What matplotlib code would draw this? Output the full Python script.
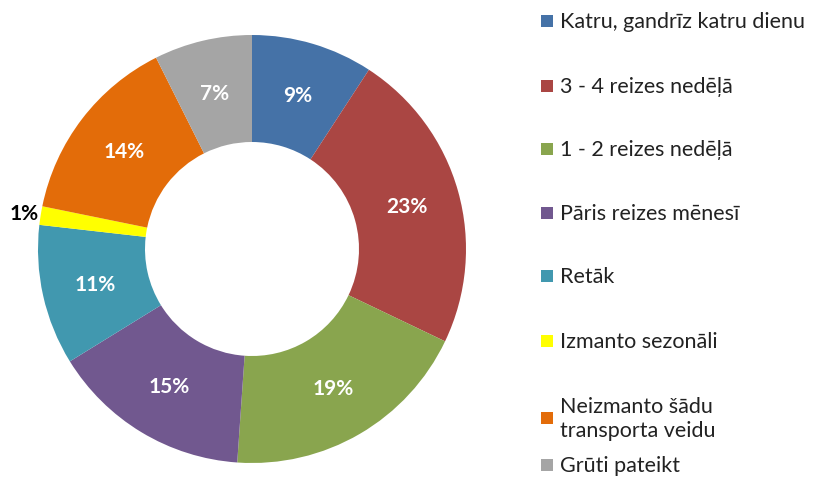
import matplotlib.pyplot as plt
from matplotlib.patches import Rectangle
import numpy as np

plt.rcParams['font.family'] = ['Lato', 'DejaVu Sans']

categories = ['Katru, gandrīz katru dienu', '3 - 4 reizes nedēļā', '1 - 2 reizes nedēļā',
              'Pāris reizes mēnesī', 'Retāk', 'Izmanto sezonāli',
              'Neizmanto šādu\ntransporta veidu', 'Grūti pateikt']
shares = [9.2, 22.9, 19.0, 15.1, 10.6, 1.4, 14.4, 7.4]
colors = ['#4572A7', '#AA4643', '#89A54E', '#71588F', '#4198AF', '#FFFF00', '#E36C09', '#A5A5A5']

W, H = 815, 481
fig = plt.figure(figsize=(W / 100, H / 100), dpi=100)

# donut, centre about (252, 250) px, radius 214 px
cx, cy, R = 252, 250, 214
ax = fig.add_axes([(cx - R) / W, (H - cy - R) / H, 2 * R / W, 2 * R / H])
wedges, _ = ax.pie(shares, colors=colors, startangle=90, counterclock=False,
                   radius=1, wedgeprops=dict(width=0.5, edgecolor='none'))
ax.set_xlim(-1, 1)
ax.set_ylim(-1, 1)
ax.set_aspect('equal')
ax.axis('off')

for w, v in zip(wedges, shares):
    ang = np.deg2rad((w.theta1 + w.theta2) / 2)
    if v < 3:
        ax.text(1.08 * np.cos(ang), 1.07 * np.sin(ang), f'{v:.0f}%', ha='center', va='center',
                fontsize=15, fontweight='bold', color='black', clip_on=False)
    else:
        ax.text(0.75 * np.cos(ang), 0.75 * np.sin(ang), f'{v:.0f}%', ha='center', va='center',
                fontsize=15, fontweight='bold', color='white')

# legend drawn by hand so the spacing follows the original
legend_y = [22, 87, 150, 214, 277, 342, 419, 466]
for lab, col, y in zip(categories, colors, legend_y):
    fig.patches.append(Rectangle((541 / W, 1 - (y + 6) / H), 12 / W, 12 / H,
                                 transform=fig.transFigure, facecolor=col, edgecolor='none'))
    fig.text(560 / W, 1 - y / H, lab, ha='left', va='center', fontsize=15.5,
             linespacing=1.25, color='#222222')

fig.savefig('out.png', dpi=100)
